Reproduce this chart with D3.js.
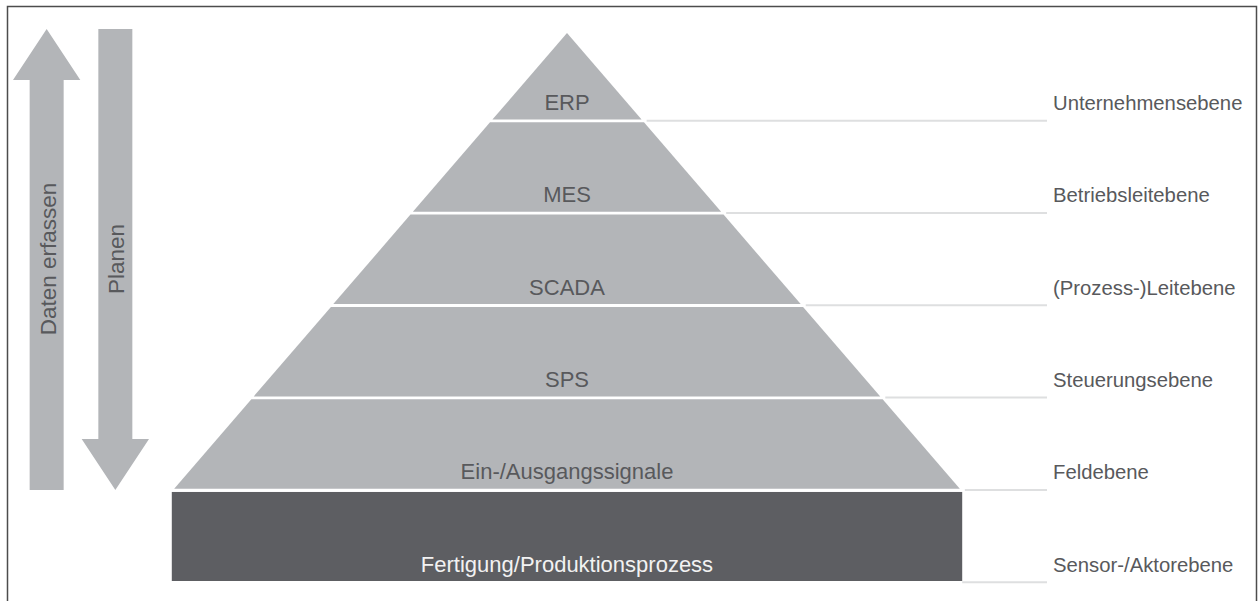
<!DOCTYPE html>
<html lang="de">
<head>
    <meta charset="UTF-8">
    <title>Automatisierungspyramide</title>
    <script src="https://cdn.jsdelivr.net/npm/d3@7"></script>
    <style>
        html, body { margin: 0; padding: 0; background: #fff; }
        svg { display: block; font-family: "Liberation Sans", Arial, Helvetica, sans-serif; }
    </style>
</head>
<body>
<svg id="chart" width="1260" height="601"></svg>
<script>
    // levels from top to bottom
    var levels = ["ERP", "MES", "SCADA", "SPS", "Ein-/Ausgangssignale", "Fertigung/Produktionsprozess"];
    var levelNames = ["Unternehmensebene", "Betriebsleitebene", "(Prozess-)Leitebene", "Steuerungsebene", "Feldebene", "Sensor-/Aktorebene"];
    var arrowLabels = ["Daten erfassen", "Planen"];
    var arrowDirections = ["up", "down"];

    var W = 1260, H = 601;
    var light = "#b3b5b8", dark = "#5d5e62", textGrey = "#58595c", lineGrey = "#dedfe0";

    var svg = d3.select("#chart");

    // frame (open at the bottom)
    svg.append("path")
        .attr("d", "M7.5," + H + "V6.5H1256.5V" + H)
        .attr("fill", "none")
        .attr("stroke", "#4d4d4d")
        .attr("stroke-width", 1.5);

    // rows
    var y = d3.scaleBand()
        .domain(levels)
        .range([30, 581])
        .paddingInner(0.03);

    var cx = 567, apexY = 33, slope = 0.862;
    // half width of the pyramid at a given y
    var halfW = d3.scaleLinear().domain([apexY, apexY + 1]).range([0, slope]);

    var pyramidLevels = levels.slice(0, levels.length - 1);
    var baseLevel = levels[levels.length - 1];

    svg.append("g").selectAll("path")
        .data(pyramidLevels)
        .join("path")
        .attr("d", function (d, i) {
            var y0 = Math.max(y(d), apexY), y1 = y(d) + y.bandwidth();
            var p = d3.path();
            if (i === 0) {
                p.moveTo(cx, apexY);
            } else {
                p.moveTo(cx - halfW(y0), y0);
                p.lineTo(cx + halfW(y0), y0);
            }
            p.lineTo(cx + halfW(y1), y1);
            p.lineTo(cx - halfW(y1), y1);
            p.closePath();
            return p.toString();
        })
        .attr("fill", light);

    var baseHalf = halfW(y(baseLevel));
    svg.append("rect")
        .attr("x", cx - baseHalf)
        .attr("y", y(baseLevel) + 0.5)
        .attr("width", baseHalf * 2)
        .attr("height", y.bandwidth() - 0.5)
        .attr("fill", dark);

    // level labels inside
    svg.append("g").selectAll("text")
        .data(levels)
        .join("text")
        .attr("x", cx)
        .attr("y", function (d) { return y(d) + y.bandwidth() - 9.5; })
        .attr("text-anchor", "middle")
        .attr("font-size", 22)
        .attr("fill", function (d) { return d === baseLevel ? "#f2f2f2" : textGrey; })
        .text(function (d) { return d; });

    // guide lines to the right
    var lineEnd = 1047, labelX = 1053;
    svg.append("g").selectAll("line")
        .data(levels)
        .join("line")
        .attr("x1", function (d) {
            var yy = y(d) + y.bandwidth() + 1.2;
            return d === baseLevel ? cx + baseHalf : cx + halfW(yy) + 4;
        })
        .attr("x2", lineEnd)
        .attr("y1", function (d) { return y(d) + y.bandwidth() + 1.2; })
        .attr("y2", function (d) { return y(d) + y.bandwidth() + 1.2; })
        .attr("stroke", lineGrey)
        .attr("stroke-width", 2);

    svg.append("g").selectAll("text")
        .data(levelNames)
        .join("text")
        .attr("x", labelX)
        .attr("y", function (d, i) { return y(levels[i]) + y.bandwidth() - 9.5; })
        .attr("font-size", 20.3)
        .attr("fill", textGrey)
        .text(function (d) { return d; });

    // arrows on the left
    var arrowX = d3.scaleBand().domain(arrowLabels).range([13, 149]).paddingInner(0.02);
    var arrowTop = 29, arrowBottom = 490, headLen = 51, shaft = 34;

    var arrows = svg.append("g").selectAll("g")
        .data(arrowLabels)
        .join("g");

    arrows.append("path")
        .attr("d", function (d, i) {
            var x0 = arrowX(d), x1 = x0 + arrowX.bandwidth(), mx = (x0 + x1) / 2;
            var s0 = mx - shaft / 2, s1 = mx + shaft / 2;
            var p = d3.path();
            if (arrowDirections[i] === "up") {
                p.moveTo(mx, arrowTop);
                p.lineTo(x1, arrowTop + headLen);
                p.lineTo(s1, arrowTop + headLen);
                p.lineTo(s1, arrowBottom);
                p.lineTo(s0, arrowBottom);
                p.lineTo(s0, arrowTop + headLen);
                p.lineTo(x0, arrowTop + headLen);
            } else {
                p.moveTo(s0, arrowTop);
                p.lineTo(s1, arrowTop);
                p.lineTo(s1, arrowBottom - headLen);
                p.lineTo(x1, arrowBottom - headLen);
                p.lineTo(mx, arrowBottom);
                p.lineTo(x0, arrowBottom - headLen);
                p.lineTo(s0, arrowBottom - headLen);
            }
            p.closePath();
            return p.toString();
        })
        .attr("fill", light);

    arrows.append("text")
        .attr("transform", function (d) {
            var mx = arrowX(d) + arrowX.bandwidth() / 2;
            return "translate(" + (mx + 9) + ",259) rotate(-90)";
        })
        .attr("text-anchor", "middle")
        .attr("font-size", 22.5)
        .attr("fill", textGrey)
        .text(function (d) { return d; });
</script>
</body>
</html>
